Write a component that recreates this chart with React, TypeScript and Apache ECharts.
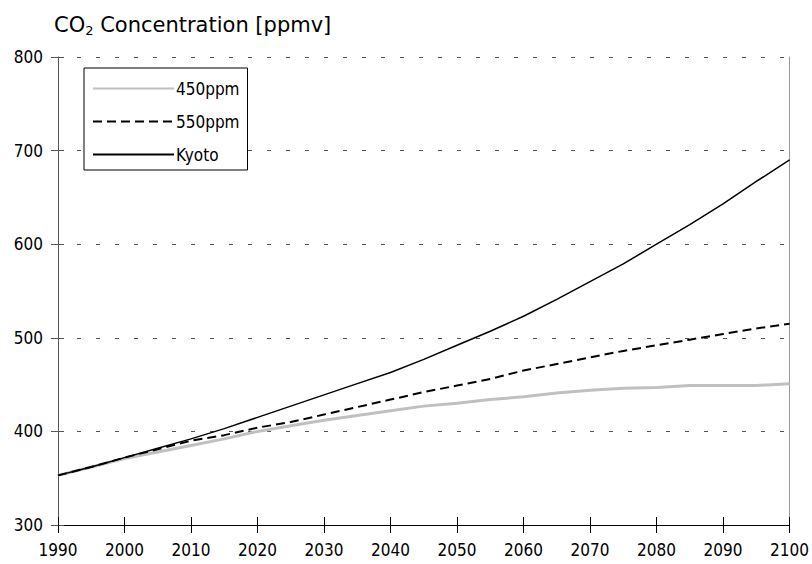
import React, { useEffect, useRef } from "react";
import * as echarts from "echarts";

const years = [1990, 1995, 2000, 2005, 2010, 2015, 2020, 2025, 2030, 2035, 2040, 2045, 2050, 2055, 2060, 2065, 2070, 2075, 2080, 2085, 2090, 2095, 2100];
const ppm450 = [353, 362, 371, 378, 385, 392, 400, 406, 412, 417, 422, 427, 430, 434, 437, 441, 444, 446, 447, 449, 449, 449, 451];
const ppm550 = [353, 362, 372, 381, 390, 396, 404, 410, 418, 426, 434, 442, 449, 456, 465, 472, 479, 486, 492, 498, 504, 510, 515];
const kyoto = [353, 362, 372, 382, 392, 403, 415, 427, 439, 451, 463, 477, 492, 507, 523, 541, 560, 579, 600, 621, 643, 667, 690];
const seriesNames = ["450ppm", "550ppm", "Kyoto"];
const yMin = 300, yMax = 800, yStep = 100;
const xMin = 1990, xMax = 2100, xStep = 10;

const FONT = "'DejaVu Sans Condensed', 'DejaVu Sans', sans-serif";
const TITLE_FONT = "'DejaVu Sans', sans-serif";

export default function App() {
  const ref = useRef<HTMLDivElement>(null);
  useEffect(() => {
    if (!ref.current) return;
    const chart = echarts.init(ref.current, null, { renderer: "svg" });
    const pairs = (vals: number[]) => years.map((y, i) => [y, vals[i]]);
    const baseX = { type: "value", min: xMin, max: xMax, interval: xStep, position: "bottom", splitLine: { show: false } };
    const baseY = { type: "value", min: yMin, max: yMax, interval: yStep };
    chart.setOption({
      animation: false,
      backgroundColor: "#fff",
      textStyle: { fontFamily: FONT },
      graphic: [
        {
          type: "text",
          x: 54,
          y: 12,
          style: {
            text: "CO{sub|2} Concentration [ppmv]",
            align: "left",
            verticalAlign: "top",
            fontFamily: TITLE_FONT,
            fontSize: 21,
            fill: "#000",
            rich: {
              sub: { fontFamily: TITLE_FONT, fontSize: 13, fill: "#000", padding: [12, 0, 0, 0] },
            },
          },
        },
      ],
      legend: {
        orient: "vertical",
        left: 84,
        top: 68,
        data: seriesNames,
        itemWidth: 81,
        itemHeight: 14,
        itemGap: 16,
        padding: [12, 8, 7, 8],
        borderColor: "#000",
        borderWidth: 1,
        backgroundColor: "#fff",
        itemStyle: { opacity: 0 },
        textStyle: { fontFamily: FONT, fontSize: 17, color: "#000", padding: [0, 0, 0, -3] },
      },
      grid: { left: 58, right: 18, top: 57, bottom: 39, containLabel: false },
      xAxis: [
        {
          ...baseX,
          axisLine: { show: true, lineStyle: { color: "#000", width: 1 } },
          axisTick: { show: true, inside: false, length: 8, lineStyle: { color: "#000" } },
          axisLabel: { margin: 16, fontFamily: FONT, fontSize: 17, color: "#000", formatter: (v: number) => String(v) },
        },
        {
          ...baseX,
          axisLine: { show: false },
          axisTick: { show: true, inside: true, length: 8, lineStyle: { color: "#000" } },
          axisLabel: { show: false },
        },
      ],
      yAxis: [
        {
          ...baseY,
          position: "left",
          axisLine: { show: true, lineStyle: { color: "#555", width: 1 } },
          axisTick: { show: true, inside: false, length: 7, lineStyle: { color: "#555" } },
          axisLabel: { margin: 15, fontFamily: FONT, fontSize: 17, color: "#000" },
          splitLine: { show: true, lineStyle: { color: "#555", type: [4, 15], width: 1 } },
        },
        {
          ...baseY,
          position: "left",
          axisLine: { show: false },
          axisTick: { show: true, inside: true, length: 6, lineStyle: { color: "#555" } },
          axisLabel: { show: false },
          splitLine: { show: false },
        },
        {
          ...baseY,
          position: "right",
          axisLine: { show: true, lineStyle: { color: "#999", width: 1 } },
          axisTick: { show: false },
          axisLabel: { show: false },
          splitLine: { show: false },
        },
      ],
      series: [
        {
          name: seriesNames[0],
          type: "line",
          data: pairs(ppm450),
          symbol: "none",
          lineStyle: { color: "#c0c0c0", width: 3 },
          itemStyle: { color: "#c0c0c0" },
          z: 2,
        },
        {
          name: seriesNames[1],
          type: "line",
          data: pairs(ppm550),
          symbol: "none",
          lineStyle: { color: "#000", width: 2, type: [9, 5] },
          itemStyle: { color: "#000" },
          z: 3,
        },
        {
          name: seriesNames[2],
          type: "line",
          data: pairs(kyoto),
          symbol: "none",
          lineStyle: { color: "#000", width: 1.5 },
          itemStyle: { color: "#000" },
          z: 4,
        },
      ],
    });
    return () => chart.dispose();
  }, []);
  return <div ref={ref} style={{ width: 812, height: 564, position: "fixed", left: 0, top: 0 }} />;
}
